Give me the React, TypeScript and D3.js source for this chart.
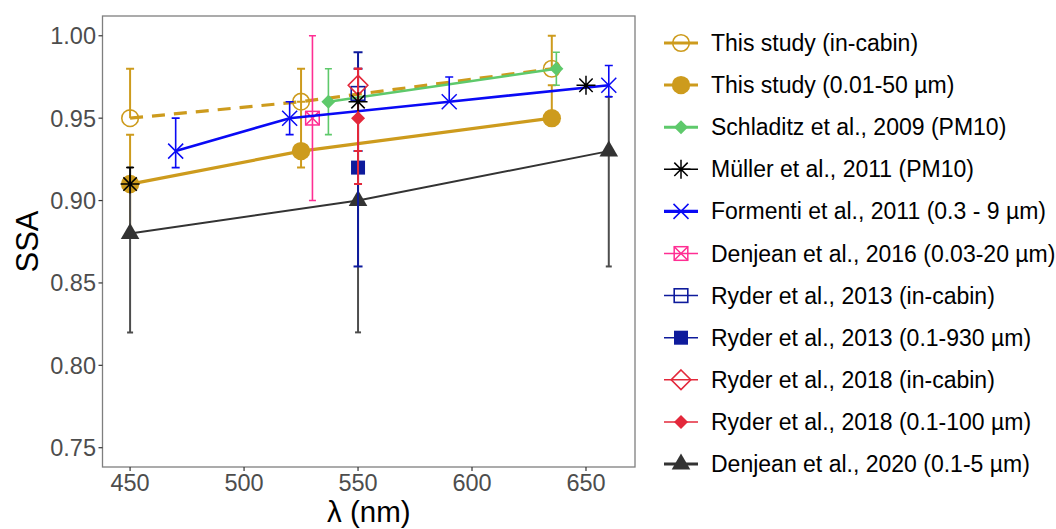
import React from "react";
import * as d3 from "d3";

// ---- Data: single scattering albedo (SSA) vs wavelength ----
const inCabinX = [450, 525, 635];
const inCabinY = [0.95, 0.96, 0.98];
const inCabinLo = [0.95, 0.96, 0.98];
const inCabinHi = [0.98, 0.98, 1.0];

const fullX = [450, 525, 635];
const fullY = [0.91, 0.93, 0.95];
const fullLo = [0.88, 0.92, 0.95];
const fullHi = [0.94, 0.96, 0.97];

const schladitzX = [537, 637];
const schladitzY = [0.96, 0.98];
const schladitzLo = [0.94, 0.97];
const schladitzHi = [0.98, 0.99];

const mullerX = [450, 550, 650];
const mullerY = [0.91, 0.96, 0.97];
const mullerLo = [0.91, 0.96, 0.97];
const mullerHi = [0.92, 0.96, 0.97];

const formentiX = [470, 520, 590, 660];
const formentiY = [0.93, 0.95, 0.96, 0.97];
const formentiLo = [0.92, 0.94, 0.96, 0.963];
const formentiHi = [0.95, 0.96, 0.975, 0.982];

const denjean16X = [530];
const denjean16Y = [0.95];
const denjean16Lo = [0.9];
const denjean16Hi = [1.0];

const ryder13CabinX = [550];
const ryder13CabinY = [0.965];
const ryder13CabinLo = [0.93];
const ryder13CabinHi = [0.99];

const ryder13X = [550];
const ryder13Y = [0.92];
const ryder13Lo = [0.86];
const ryder13Hi = [0.98];

const ryder18CabinX = [550];
const ryder18CabinY = [0.97];
const ryder18CabinLo = [0.93];
const ryder18CabinHi = [0.98];

const ryder18X = [550];
const ryder18Y = [0.95];
const ryder18Lo = [0.91];
const ryder18Hi = [0.98];

const denjean20X = [450, 550, 660];
const denjean20Y = [0.88, 0.9, 0.93];
const denjean20Lo = [0.82, 0.82, 0.86];
const denjean20Hi = [0.92, 0.93, 0.963];

const xTicks = [450, 500, 550, 600, 650];
const yTicks = [0.75, 0.8, 0.85, 0.9, 0.95, 1.0];

// ---- Styling ----
const GOLD = "#CD9B1D";
const GREEN = "#5EC96B";
const BLUE = "#0A0AF5";
const PINK = "#FF2E93";
const NAVY = "#0E1B9C";
const RED = "#E3283B";
const DARK = "#333333";

type Shape =
  | "openCircle"
  | "circle"
  | "diamond"
  | "openDiamond"
  | "asterisk"
  | "times"
  | "squareX"
  | "openSquare"
  | "square"
  | "triangle";

interface Series {
  key: string;
  label: string;
  x: number[];
  y: number[];
  lo: number[];
  hi: number[];
  color: string;
  barColor?: string;
  line: boolean;
  lineWidth: number;
  dash?: string;
  shape: Shape;
  barWidth: number;
  capHalf: number;
  legendLineWidth: number;
}

const series: Series[] = [
  { key: "inCabin", label: "This study (in-cabin)", x: inCabinX, y: inCabinY, lo: inCabinLo, hi: inCabinHi, color: GOLD, line: true, lineWidth: 3.2, dash: "13,9", shape: "openCircle", barWidth: 2, capHalf: 4, legendLineWidth: 3 },
  { key: "full", label: "This study (0.01-50 µm)", x: fullX, y: fullY, lo: fullLo, hi: fullHi, color: GOLD, line: true, lineWidth: 3.2, shape: "circle", barWidth: 2, capHalf: 4, legendLineWidth: 3 },
  { key: "schladitz", label: "Schladitz et al., 2009 (PM10)", x: schladitzX, y: schladitzY, lo: schladitzLo, hi: schladitzHi, color: GREEN, line: true, lineWidth: 2.5, shape: "diamond", barWidth: 1.6, capHalf: 3.5, legendLineWidth: 3 },
  { key: "muller", label: "Müller et al., 2011 (PM10)", x: mullerX, y: mullerY, lo: mullerLo, hi: mullerHi, color: "#000000", line: false, lineWidth: 1.5, shape: "asterisk", barWidth: 1.5, capHalf: 4, legendLineWidth: 1.5 },
  { key: "formenti", label: "Formenti et al., 2011 (0.3 - 9 µm)", x: formentiX, y: formentiY, lo: formentiLo, hi: formentiHi, color: BLUE, line: true, lineWidth: 2.6, shape: "times", barWidth: 1.6, capHalf: 4, legendLineWidth: 3.2 },
  { key: "denjean16", label: "Denjean et al., 2016 (0.03-20 µm)", x: denjean16X, y: denjean16Y, lo: denjean16Lo, hi: denjean16Hi, color: PINK, line: false, lineWidth: 1.5, shape: "squareX", barWidth: 1.6, capHalf: 3.5, legendLineWidth: 1.5 },
  { key: "ryder13Cabin", label: "Ryder et al., 2013 (in-cabin)", x: ryder13CabinX, y: ryder13CabinY, lo: ryder13CabinLo, hi: ryder13CabinHi, color: NAVY, line: false, lineWidth: 1.5, shape: "openSquare", barWidth: 2, capHalf: 4.5, legendLineWidth: 1.5 },
  { key: "ryder13", label: "Ryder et al., 2013 (0.1-930 µm)", x: ryder13X, y: ryder13Y, lo: ryder13Lo, hi: ryder13Hi, color: NAVY, line: false, lineWidth: 1.5, shape: "square", barWidth: 2, capHalf: 4.5, legendLineWidth: 1.5 },
  { key: "ryder18Cabin", label: "Ryder et al., 2018 (in-cabin)", x: ryder18CabinX, y: ryder18CabinY, lo: ryder18CabinLo, hi: ryder18CabinHi, color: RED, line: false, lineWidth: 1.5, shape: "openDiamond", barWidth: 2, capHalf: 4, legendLineWidth: 1.5 },
  { key: "ryder18", label: "Ryder et al., 2018 (0.1-100 µm)", x: ryder18X, y: ryder18Y, lo: ryder18Lo, hi: ryder18Hi, color: RED, line: false, lineWidth: 1.5, shape: "diamond", barWidth: 2, capHalf: 4, legendLineWidth: 1.5 },
  { key: "denjean20", label: "Denjean et al., 2020 (0.1-5 µm)", x: denjean20X, y: denjean20Y, lo: denjean20Lo, hi: denjean20Hi, color: DARK, barColor: "#4D4D4D", line: true, lineWidth: 2, shape: "triangle", barWidth: 2, capHalf: 3, legendLineWidth: 2.8 },
];

// Layer order inside the panel
const drawOrder = [
  "inCabin", "full", "denjean20", "schladitz", "denjean16", "formenti",
  "ryder13Cabin", "ryder13", "ryder18Cabin", "ryder18", "muller",
];

const W = 1056;
const H = 529;
const panel = { left: 102.5, right: 635, top: 16, bottom: 467 };

const x = d3.scaleLinear().domain([437.9, 671.5]).range([panel.left, panel.right]);
const y = d3.scaleLinear().domain([0.7383, 1.012]).range([panel.bottom, panel.top]);

function Marker({ shape, color, cx, cy }: { shape: Shape; color: string; cx: number; cy: number }) {
  const t = `translate(${cx},${cy})`;
  switch (shape) {
    case "openCircle":
      return <circle cx={cx} cy={cy} r={8.3} fill="none" stroke={color} strokeWidth={1.6} />;
    case "circle":
      return <circle cx={cx} cy={cy} r={9.2} fill={color} />;
    case "diamond":
      return <path transform={t} d="M0,-7 L7,0 L0,7 L-7,0Z" fill={color} />;
    case "openDiamond":
      return <path transform={t} d="M0,-9.8 L9.8,0 L0,9.8 L-9.8,0Z" fill="none" stroke={color} strokeWidth={1.6} />;
    case "times":
      return <path transform={t} d="M-7.5,-7.5 L7.5,7.5 M-7.5,7.5 L7.5,-7.5" stroke={color} strokeWidth={1.5} fill="none" />;
    case "asterisk":
      return (
        <path
          transform={t}
          d="M-6.7,-6.7 L6.7,6.7 M-6.7,6.7 L6.7,-6.7 M-9.5,0 L9.5,0 M0,-9.5 L0,9.5"
          stroke={color}
          strokeWidth={1.5}
          fill="none"
        />
      );
    case "squareX":
      return (
        <g transform={t} stroke={color} strokeWidth={1.5} fill="none">
          <rect x={-6.8} y={-6.8} width={13.6} height={13.6} />
          <path d="M-6.8,-6.8 L6.8,6.8 M-6.8,6.8 L6.8,-6.8" />
        </g>
      );
    case "openSquare":
      return <rect x={cx - 6.8} y={cy - 6.8} width={13.6} height={13.6} fill="none" stroke={color} strokeWidth={1.6} />;
    case "square":
      return <rect x={cx - 7} y={cy - 7} width={14} height={14} fill={color} />;
    case "triangle":
      return <path transform={t} d="M0,-10.6 L9.3,5.4 L-9.3,5.4Z" fill={color} />;
  }
  return null;
}

function ErrorBars({ s }: { s: Series }) {
  const col = s.barColor ?? s.color;
  return (
    <g stroke={col} strokeWidth={s.barWidth} fill="none">
      {s.x.map((xv, i) => {
        const px = x(xv);
        const yl = y(s.lo[i]);
        const yh = y(s.hi[i]);
        const yc = y(s.y[i]);
        const hasLo = s.lo[i] < s.y[i];
        const hasHi = s.hi[i] > s.y[i];
        if (!hasLo && !hasHi) return null;
        const top = hasHi ? yh : yc;
        const bot = hasLo ? yl : yc;
        return (
          <g key={i}>
            <line x1={px} x2={px} y1={top} y2={bot} />
            {hasHi && <line x1={px - s.capHalf} x2={px + s.capHalf} y1={yh} y2={yh} />}
            {hasLo && <line x1={px - s.capHalf} x2={px + s.capHalf} y1={yl} y2={yl} />}
          </g>
        );
      })}
    </g>
  );
}

function SeriesLayer({ s }: { s: Series }) {
  const pts = s.x.map((xv, i) => [xv, s.y[i]] as [number, number]);
  const lineGen = d3
    .line<[number, number]>()
    .x((d) => x(d[0]))
    .y((d) => y(d[1]));
  return (
    <g>
      <ErrorBars s={s} />
      {s.line && (
        <path
          d={lineGen(pts) ?? ""}
          fill="none"
          stroke={s.color}
          strokeWidth={s.lineWidth}
          strokeDasharray={s.dash}
        />
      )}
      {pts.map((p, i) => (
        <Marker key={i} shape={s.shape} color={s.color} cx={x(p[0])} cy={y(p[1])} />
      ))}
    </g>
  );
}

const FONT = "'Liberation Sans', Arial, sans-serif";

export default function App() {
  const byKey = new Map(series.map((s) => [s.key, s]));
  const legendX0 = 664;
  const legendX1 = 698;
  const legendY0 = 43;
  const legendStep = 42.1;

  return (
    <div style={{ position: "absolute", left: 0, top: 0 }}>
      <svg width={W} height={H} viewBox={`0 0 ${W} ${H}`} style={{ display: "block", background: "#fff" }} fontFamily={FONT}>
        <rect x={0} y={0} width={W} height={H} fill="#fff" />

        {/* panel content */}
        <defs>
          <clipPath id="panelClip">
            <rect x={panel.left} y={panel.top} width={panel.right - panel.left} height={panel.bottom - panel.top} />
          </clipPath>
        </defs>
        <g clipPath="url(#panelClip)">
          {drawOrder.map((k) => {
            const s = byKey.get(k)!;
            return <SeriesLayer key={k} s={s} />;
          })}
        </g>

        {/* panel border */}
        <rect
          x={panel.left}
          y={panel.top}
          width={panel.right - panel.left}
          height={panel.bottom - panel.top}
          fill="none"
          stroke="#7F7F7F"
          strokeWidth={1.3}
        />

        {/* y axis */}
        <g>
          {yTicks.map((t) => (
            <g key={t}>
              <line x1={panel.left - 4} x2={panel.left} y1={y(t)} y2={y(t)} stroke="#333" strokeWidth={1.2} />
              <text x={panel.left - 6.5} y={y(t) + 8.5} textAnchor="end" fontSize={23.5} fill="#4D4D4D">
                {t.toFixed(2)}
              </text>
            </g>
          ))}
        </g>

        {/* x axis */}
        <g>
          {xTicks.map((t) => (
            <g key={t}>
              <line x1={x(t)} x2={x(t)} y1={panel.bottom} y2={panel.bottom + 4} stroke="#333" strokeWidth={1.2} />
              <text x={x(t)} y={panel.bottom + 24} textAnchor="middle" fontSize={23.5} fill="#4D4D4D">
                {t}
              </text>
            </g>
          ))}
        </g>

        {/* axis titles */}
        <text x={(panel.left + panel.right) / 2} y={522} textAnchor="middle" fontSize={29.5} fill="#000">
          λ (nm)
        </text>
        <text
          transform={`translate(38,${(panel.top + panel.bottom) / 2}) rotate(-90)`}
          textAnchor="middle"
          fontSize={31}
          fill="#000"
        >
          SSA
        </text>

        {/* legend */}
        <g>
          {series.map((s, i) => {
            const cy = legendY0 + i * legendStep;
            const cx = (legendX0 + legendX1) / 2;
            return (
              <g key={s.key}>
                <line x1={legendX0} x2={legendX1} y1={cy} y2={cy} stroke={s.color} strokeWidth={s.legendLineWidth} />
                <Marker shape={s.shape} color={s.color} cx={cx} cy={cy} />
                <text x={711} y={cy + 8} fontSize={23} fill="#000">
                  {s.label}
                </text>
              </g>
            );
          })}
        </g>
      </svg>
    </div>
  );
}
